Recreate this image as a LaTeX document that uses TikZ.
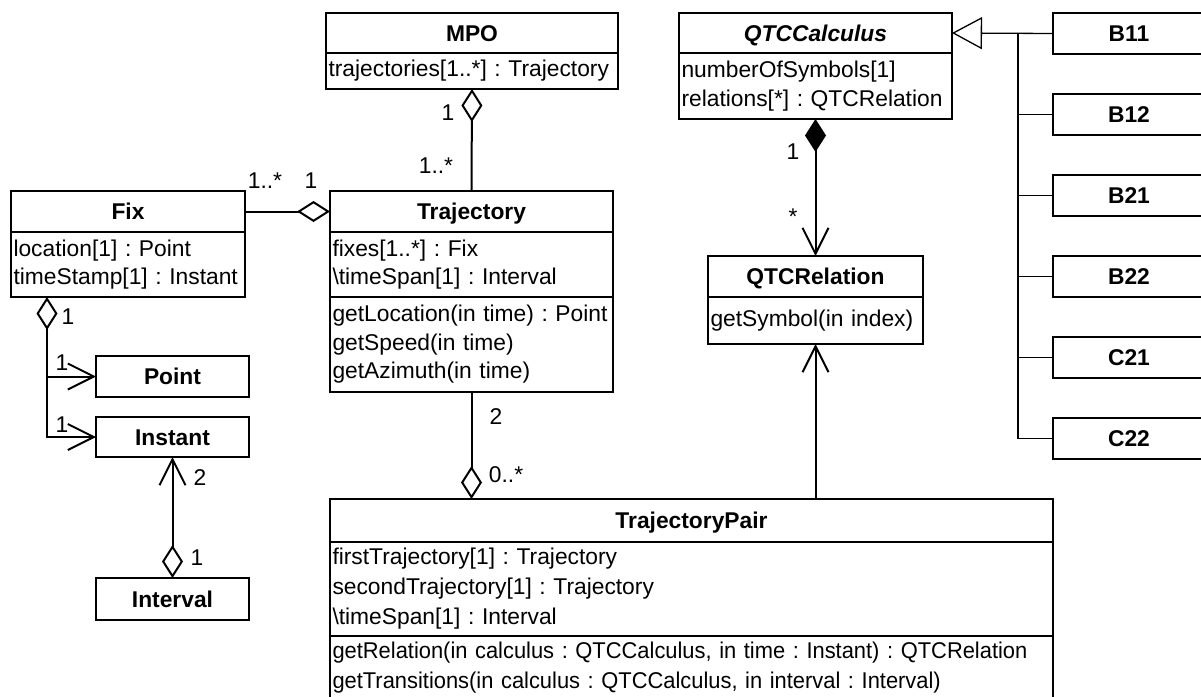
\documentclass[tikz,border=0pt]{standalone}
\usepackage{fontspec}
\setmainfont{Liberation Sans}
\newfontfamily\narrowfont[FakeStretch=0.96]{Liberation Sans}
\usetikzlibrary{arrows.meta}
\tikzset{
  odiam/.tip={Diamond[open,length=33pt,width=21pt]},
  fdiam/.tip={Diamond[length=33pt,width=21pt]},
  barb/.tip={Straight Barb[length=26pt,width=26pt]},
  tri/.tip={Triangle[open,length=30pt,width=32pt]},
}
\newcommand{\umlfont}{\fontsize{22.8}{28.5}\selectfont\frenchspacing}
\begin{document}
\begin{tikzpicture}[x=1pt,y=-1pt,font=\umlfont,line join=miter,
  head/.style={draw,line width=2pt,outer sep=0pt,font=\umlfont\bfseries,inner sep=0pt,text height=16.3pt,text depth=0pt,anchor=north west},
  body/.style={draw,line width=2pt,outer sep=0pt,align=left,inner xsep=2.5pt,inner ysep=0pt,anchor=north west},
  mult/.style={inner sep=0pt},
  assoc/.style={line width=2pt},
  gen/.style={line width=1.3pt}]
\useasboundingbox (0,0) rectangle (1201,696);
\clip (0,0) rectangle (1201,696);
\node[head,minimum width=292pt,minimum height=40pt] (mpo) at (326,13) {MPO};
\node[body,text width=287pt,minimum height=36pt] (mpo-a) at (mpo.south west) {trajectories[1..*] : Trajectory};
\node[head,minimum width=273pt,minimum height=40pt] (calc) at (679,13) {\itshape QTCCalculus};
\node[body,text width=268pt,minimum height=66pt] (calc-a) at (calc.south west) {numberOfSymbols[1]\\relations[*] : QTCRelation};
\node[head,minimum width=234pt,minimum height=41pt] (fix) at (11,191) {Fix};
\node[body,text width=229pt,minimum height=65pt] (fix-a) at (fix.south west) {location[1] : Point\\timeStamp[1] : Instant};
\node[head,minimum width=283pt,minimum height=41pt] (traj) at (330,191) {Trajectory};
\node[body,text width=278pt,minimum height=65pt] (traj-a) at (traj.south west) {fixes[1..*] : Fix\\\textbackslash timeSpan[1] : Interval};
\node[body,text width=278pt,minimum height=95pt] (traj-m) at (traj-a.south west) {getLocation(in time) : Point\\getSpeed(in time)\\getAzimuth(in time)};
\node[head,minimum width=215pt,minimum height=41pt] (rel) at (708,256) {QTCRelation};
\node[body,text width=210pt,minimum height=47pt] (rel-m) at (rel.south west) {getSymbol(in index)};
\node[head,minimum width=153pt,minimum height=41pt] (point) at (96,356) {Point};
\node[head,minimum width=153pt,minimum height=40pt] (instant) at (96,417) {Instant};
\node[head,minimum width=153pt,minimum height=42pt] (interval) at (96,578) {Interval};
\node[head,minimum width=723pt,minimum height=43pt] (pair) at (330,499) {TrajectoryPair};
\node[body,text width=718pt,minimum height=94pt,font=\fontsize{22.8}{30}\selectfont\frenchspacing] (pair-a) at (pair.south west) {firstTrajectory[1] : Trajectory\\secondTrajectory[1] : Trajectory\\\textbackslash timeSpan[1] : Interval};
\node[body,text width=718pt,minimum height=64pt,font=\narrowfont\fontsize{22.8}{30}\selectfont\frenchspacing] (pair-m) at (pair-a.south west) {getRelation(in calculus : QTCCalculus, in time : Instant) : QTCRelation\\getTransitions(in calculus : QTCCalculus, in interval : Interval)};
\foreach \n [count=\i from 0] in {B11,B12,B21,B22,C21,C22}
  \node[head,minimum width=152pt,minimum height=41pt] (\n) at (1053,13+81*\i) {\n};

\draw[assoc,{odiam}-] (mpo-a.south) -- (traj.north);
\draw[assoc,-{odiam}] (fix.east) -- (traj.west);
\coordinate (fixjoin) at ([xshift=36pt]fix-a.south west);
\draw[assoc,{odiam}-{barb}] (fixjoin) |- (instant.west);
\draw[assoc,-{barb}] (fixjoin |- point.west) -- (point.west);
\draw[assoc,{barb}-{odiam}] (instant.south) -- (interval.north);
\draw[assoc,-{odiam}] (traj-m.south) -- (traj-m.south |- pair.north);
\draw[assoc,-{barb}] (rel-m.south |- pair.north) -- (rel-m.south);
\draw[assoc,{fdiam}-{barb}] (calc-a.south) -- (rel.north);
\draw[gen,-{tri}] (B11.west) -- (calc.east);
\coordinate (genjoin) at ([xshift=-35pt]B11.west);
\draw[gen] (genjoin) |- (C22.west);
\foreach \n in {B12,B21,B22,C21}
  \draw[gen] (genjoin |- \n.west) -- (\n.west);

\node[mult] (m-mpo) at (448,113) {1};
\node[mult] (m-trajup) at (436,166) {1..*};
\node[mult] (m-fixr) at (265,181) {1..*};
\node[mult] (m-trajl) at (311,181) {1};
\node[mult] (m-fixd) at (68,317) {1};
\node[mult] (m-point) at (62,363) {1};
\node[mult] (m-instant) at (62,425) {1};
\node[mult] (m-instd) at (200,478) {2};
\node[mult] (m-interval) at (197,558) {1};
\node[mult] (m-trajd) at (496,417) {2};
\node[mult] (m-pair) at (506,475) {0..*};
\node[mult] (m-calc) at (793,152) {1};
\node[mult] (m-rel) at (793,217) {*};
\end{tikzpicture}
\end{document}
